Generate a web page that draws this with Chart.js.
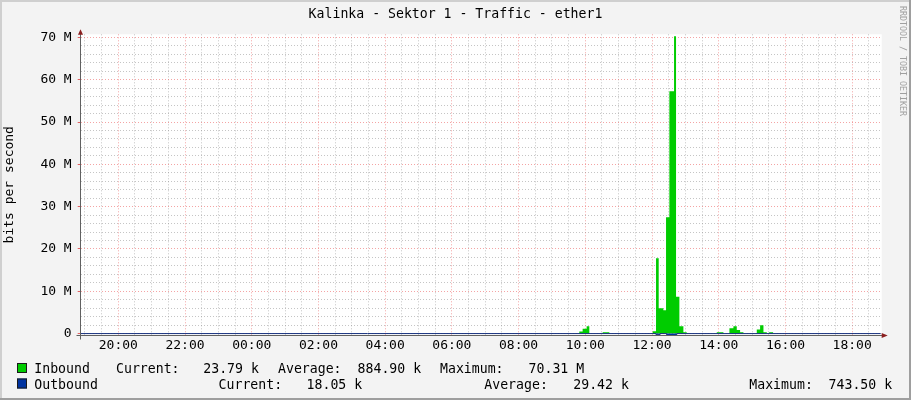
<!DOCTYPE html>
<html>
<head>
<meta charset="utf-8">
<script src="https://cdn.jsdelivr.net/npm/chart.js@4/dist/chart.umd.min.js"></script>
<style>
  html, body { margin: 0; padding: 0; background: #f3f3f3; }
  #wrap { width: 911px; height: 400px; }
</style>
</head>
<body>
<div id="wrap"><canvas id="trafficChart" width="911" height="400"></canvas></div>
<script>
const chartTitle = 'Kalinka - Sektor 1 - Traffic - ether1';
const unitLabel = 'bits per second';
const watermark = 'RRDTOOL / TOBI OETIKER';

// hours since midnight of the first day (24+ = next day), values in Mbit/s
const inboundTimes = [18.80, 33.82, 33.92, 34.04, 34.12, 34.52, 34.72, 36.02, 36.12, 36.20, 36.34, 36.42,
                      36.52, 36.66, 36.72, 36.82, 36.94, 37.04, 37.94, 38.14, 38.32, 38.44, 38.54, 38.64,
                      38.74, 39.14, 39.24, 39.34, 39.44, 39.51, 39.63, 42.95];
const inboundValues = [0.02, 0.47, 1.1, 1.73, 0.02, 0.3, 0.02, 0.55, 17.8, 6.0, 5.5, 27.5,
                       57.3, 70.31, 8.7, 1.73, 0.3, 0.02, 0.3, 0.02, 1.26, 1.73, 0.8, 0.3,
                       0.02, 0.95, 1.97, 0.3, 0.02, 0.3, 0.02, 0.02];
const outboundTimes = [18.80, 36.12, 36.24, 36.44, 36.54, 36.66, 36.74, 42.95];
const outboundValues = [-0.02, -0.3, -0.02, -0.5, -0.74, -0.5, -0.02, -0.02];

const xTickHours = [20, 22, 24, 26, 28, 30, 32, 34, 36, 38, 40, 42];
const xTickLabels = ['20:00', '22:00', '00:00', '02:00', '04:00', '06:00', '08:00', '10:00', '12:00', '14:00', '16:00', '18:00'];
const yTickValues = [0, 10, 20, 30, 40, 50, 60, 70];
const yTickLabels = ['0', '10 M', '20 M', '30 M', '40 M', '50 M', '60 M', '70 M'];

const inboundStats = ['23.79 k', '884.90 k', '70.31 M'];
const outboundStats = ['18.05 k', '29.42 k', '743.50 k'];

const timeStart = 18.873;
const timeEnd = 42.855;

const MONO = '"DejaVu Sans Mono", monospace';
const minorGrid = 'rgba(140,140,140,0.5)';
const majorGrid = 'rgba(235,90,90,0.55)';

const toPoints = (ts, vs) => ts.map((t, i) => ({ x: t, y: vs[i] }));

// frame, title, axes with arrows, legend and watermark, drawn the rrdtool way
const rrdFrame = {
    id: 'rrdFrame',
    beforeDraw(chart) {
        const { ctx, chartArea: a } = chart;
        ctx.save();
        ctx.fillStyle = '#f3f3f3';
        ctx.fillRect(0, 0, chart.width, chart.height);
        ctx.fillStyle = '#ffffff';
        ctx.fillRect(a.left, a.top, a.right - a.left + 1, a.bottom - a.top);
        ctx.restore();
    },
    afterDraw(chart) {
        const { ctx, chartArea: a } = chart;
        const axisY = 335.5;
        const axisX = 80.5;
        ctx.save();

        // title
        ctx.font = '13.2px ' + MONO;
        ctx.fillStyle = '#000';
        ctx.textAlign = 'center';
        ctx.textBaseline = 'middle';
        ctx.fillText(chartTitle, 455.5, 14.7);

        // axes
        ctx.strokeStyle = '#606060';
        ctx.lineWidth = 1;
        ctx.beginPath();
        ctx.moveTo(axisX - 4, axisY);
        ctx.lineTo(a.right + 3, axisY);
        ctx.moveTo(axisX, axisY + 4);
        ctx.lineTo(axisX, a.top - 3);
        ctx.stroke();

        // arrows
        ctx.fillStyle = '#8b1f1f';
        ctx.beginPath();
        ctx.moveTo(a.right + 7, axisY);
        ctx.lineTo(a.right + 1, axisY - 2.5);
        ctx.lineTo(a.right + 1, axisY + 2.5);
        ctx.closePath();
        ctx.fill();
        ctx.beginPath();
        ctx.moveTo(axisX, a.top - 5);
        ctx.lineTo(axisX - 2.5, a.top + 0.5);
        ctx.lineTo(axisX + 2.5, a.top + 0.5);
        ctx.closePath();
        ctx.fill();

        // legend
        ctx.font = '13.2px ' + MONO;
        ctx.textBaseline = 'alphabetic';
        ctx.textAlign = 'left';
        const rows = [
            { y: 373, box: 363, fill: '#00cc00', items: [[34.3, 'Inbound'], [116, 'Current:'], [203.3, inboundStats[0]],
                [278, 'Average:'], [357.6, inboundStats[1]], [440, 'Maximum:'], [528.6, inboundStats[2]]] },
            { y: 389, box: 378.5, fill: '#0033a0', items: [[34.3, 'Outbound'], [218.6, 'Current:'], [306.6, outboundStats[0]],
                [484.3, 'Average:'], [573.3, outboundStats[1]], [749.3, 'Maximum:'], [828.6, outboundStats[2]]] }
        ];
        rows.forEach(r => {
            ctx.fillStyle = r.fill;
            ctx.fillRect(17, r.box, 10, 10);
            ctx.strokeStyle = '#1a1a1a';
            ctx.strokeRect(17.5, r.box + 0.5, 9, 9);
            ctx.fillStyle = '#000';
            r.items.forEach(([x, t]) => ctx.fillText(t, x, r.y));
        });

        // watermark
        ctx.font = '8.3px ' + MONO;
        ctx.fillStyle = '#a0a0a0';
        ctx.textBaseline = 'middle';
        ctx.translate(902.5, 6);
        ctx.rotate(Math.PI / 2);
        ctx.fillText(watermark, 0, 0);
        ctx.setTransform(1, 0, 0, 1, 0, 0);

        // 3d border
        ctx.fillStyle = '#cfcfcf';
        ctx.fillRect(0, 0, chart.width, 2);
        ctx.fillRect(0, 0, 2, chart.height);
        ctx.fillStyle = '#9e9e9e';
        ctx.fillRect(0, chart.height - 2, chart.width, 2);
        ctx.fillRect(chart.width - 2, 0, 2, chart.height);
        ctx.restore();
    }
};

new Chart(document.getElementById('trafficChart'), {
    type: 'line',
    data: {
        datasets: [
            {
                label: 'Outbound',
                data: toPoints(outboundTimes, outboundValues),
                stepped: true,
                fill: 'origin',
                backgroundColor: '#0033a0',
                borderColor: '#14307e',
                borderWidth: 1,
                pointRadius: 0,
                order: 1
            },
            {
                label: 'Inbound',
                data: toPoints(inboundTimes, inboundValues),
                stepped: true,
                fill: 'origin',
                backgroundColor: '#00cc00',
                borderColor: '#00cc00',
                borderWidth: 0,
                pointRadius: 0,
                order: 2
            }
        ]
    },
    options: {
        responsive: false,
        animation: false,
        events: [],
        layout: { padding: { left: 0, right: 30.3, top: 34.3, bottom: 0 } },
        plugins: {
            legend: { display: false },
            tooltip: { enabled: false },
            title: { display: false }
        },
        scales: {
            x: {
                type: 'linear',
                min: timeStart,
                max: timeEnd,
                afterBuildTicks: s => {
                    const t = [];
                    for (let h = 19; h < timeEnd; h += 0.5) t.push({ value: h, major: xTickHours.includes(h) });
                    s.ticks = t;
                },
                afterFit: s => { s.height = 64.8; },
                ticks: {
                    autoSkip: false,
                    maxRotation: 0,
                    padding: 3,
                    color: '#000',
                    font: { family: MONO, size: 13 },
                    callback: v => {
                        const i = xTickHours.indexOf(v);
                        return i >= 0 ? xTickLabels[i] : '';
                    }
                },
                grid: {
                    color: c => (c.tick && c.tick.major ? majorGrid : minorGrid),
                    drawTicks: false,
                    lineWidth: 1
                },
                border: { display: false, dash: [1, 2] }
            },
            y: {
                type: 'linear',
                min: -0.402,
                max: 70.757,
                afterBuildTicks: s => {
                    const t = [];
                    for (let v = 0; v <= 70; v += 2) t.push({ value: v, major: v % 10 === 0 });
                    s.ticks = t;
                },
                afterFit: s => { s.width = 80.7; },
                ticks: {
                    autoSkip: false,
                    padding: 6,
                    color: '#000',
                    font: { family: MONO, size: 13 },
                    callback: v => {
                        const i = yTickValues.indexOf(v);
                        return i >= 0 ? yTickLabels[i] : '';
                    }
                },
                grid: {
                    color: c => (c.tick && c.tick.major ? majorGrid : minorGrid),
                    drawTicks: true,
                    tickLength: 3,
                    tickColor: c => (c.tick && c.tick.major ? 'rgba(220,60,60,0.8)' : 'rgba(0,0,0,0)'),
                    lineWidth: 1
                },
                border: { display: false, dash: [1, 2] },
                title: {
                    display: true,
                    text: unitLabel,
                    color: '#000',
                    font: { family: MONO, size: 13 },
                    padding: { top: 2.2, bottom: 0 }
                }
            }
        }
    },
    plugins: [rrdFrame]
});
</script>
</body>
</html>
